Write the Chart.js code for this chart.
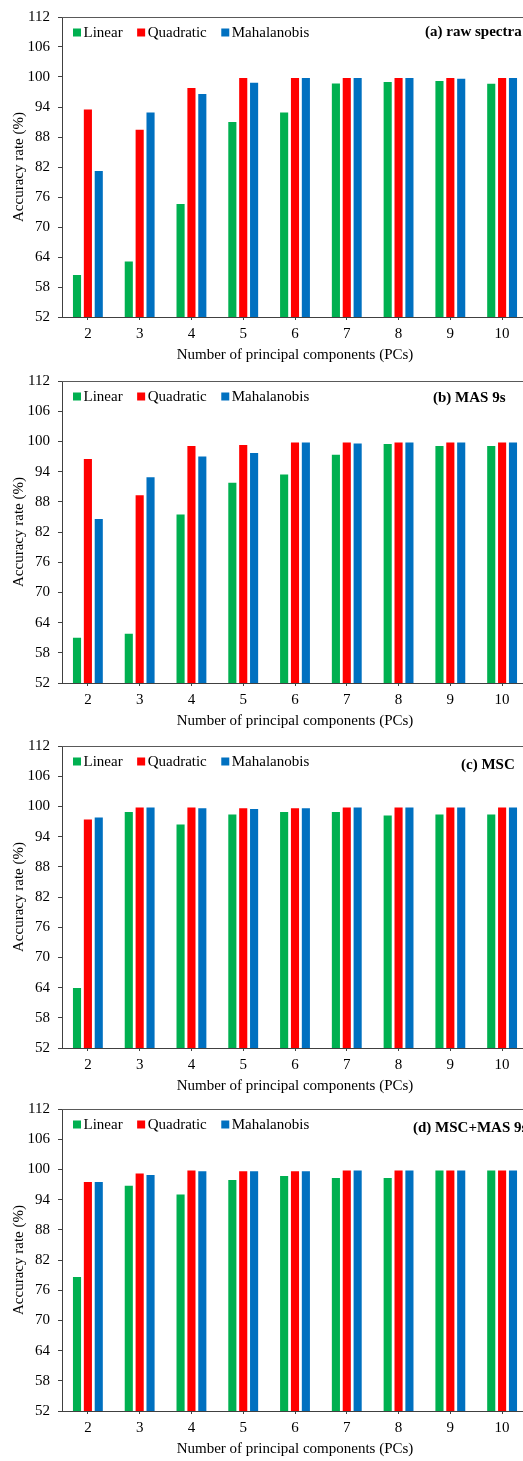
<!DOCTYPE html>
<html>
<head>
<meta charset="utf-8">
<script src="https://cdn.jsdelivr.net/npm/chart.js@4.4.1/dist/chart.umd.min.js"></script>
<style>
  html, body { margin: 0; padding: 0; background: #fff; overflow: hidden; width: 523px; height: 1461px; }
  canvas { position: absolute; left: 0; }
</style>
</head>
<body>
<canvas id="chartA"></canvas>
<canvas id="chartB"></canvas>
<canvas id="chartC"></canvas>
<canvas id="chartD"></canvas>
<script>
  // number of PCs on the x axis
  const categories = ['2', '3', '4', '5', '6', '7', '8', '9', '10'];
  const yTickValues = [52, 58, 64, 70, 76, 82, 88, 94, 100, 106, 112];
  const seriesNames = ['Linear', 'Quadratic', 'Mahalanobis'];
  const seriesColors = ['#00B050', '#FF0000', '#0070C0'];
  const panelTitles = ['(a) raw spectra', '(b) MAS 9s', '(c) MSC', '(d) MSC+MAS 9s'];

  // (a) raw spectra
  const linearA = [60.6, 63.3, 74.8, 91.2, 93.1, 98.9, 99.2, 99.4, 98.85];
  const quadA   = [93.7, 89.65, 98.0, 100, 100, 100, 100, 100, 100];
  const mahaA   = [81.4, 93.1, 96.8, 99.05, 100, 100, 100, 99.85, 100];

  // (b) MAS 9s
  const linearB = [61.2, 62.0, 85.7, 92.0, 93.6, 97.55, 99.7, 99.3, 99.3];
  const quadB   = [96.7, 89.5, 99.3, 99.5, 100, 100, 100, 100, 100];
  const mahaB   = [84.8, 93.1, 97.2, 97.9, 100, 99.8, 100, 100, 100];

  // (c) MSC
  const linearC = [64.1, 99.1, 96.6, 98.6, 99.1, 99.1, 98.4, 98.6, 98.6];
  const quadC   = [97.6, 100, 100, 99.85, 99.85, 100, 100, 100, 100];
  const mahaC   = [98.0, 100, 99.85, 99.7, 99.85, 100, 100, 100, 100];

  // (d) MSC+MAS 9s
  const linearD = [78.8, 96.95, 95.2, 98.1, 98.9, 98.5, 98.5, 100, 100];
  const quadD   = [97.7, 99.4, 100, 99.85, 99.85, 100, 100, 100, 100];
  const mahaD   = [97.7, 99.1, 99.85, 99.85, 99.85, 100, 100, 100, 100];

  const FONT = '"Liberation Serif", "Times New Roman", serif';
  const AXIS = '#404040';

  // legend + panel label + top frame line, drawn inside the plot
  const decor = {
    id: 'decor',
    afterDraw(chart, args, opts) {
      const { ctx, chartArea: a } = chart;
      ctx.save();
      ctx.strokeStyle = '#595959';
      ctx.lineWidth = 1;
      ctx.beginPath();
      ctx.moveTo(a.left, Math.round(a.top) + 0.5);
      ctx.lineTo(a.right, Math.round(a.top) + 0.5);
      ctx.stroke();

      ctx.font = '15px ' + FONT;
      ctx.textBaseline = 'middle';
      let x = a.left + 11;
      const y = a.top + 15.5;
      chart.data.datasets.forEach(ds => {
        ctx.fillStyle = ds.backgroundColor;
        ctx.fillRect(x, y - 4, 8, 8);
        ctx.fillStyle = '#000';
        ctx.fillText(ds.label, x + 10.5, y + 0.5);
        x += 10.5 + ctx.measureText(ds.label).width + 14.5;
      });

      ctx.font = 'bold 15px ' + FONT;
      ctx.fillText(opts.text, opts.x, a.top + opts.dy);
      ctx.restore();
    }
  };

  function makePanel(id, top, plotH, lin, quad, maha, title, labelX, labelDy) {
    const cv = document.getElementById(id);
    const xH = 48;
    cv.width = 528;
    cv.height = 12 + plotH + xH;
    cv.style.top = top + 'px';

    new Chart(cv, {
      type: 'bar',
      data: {
        labels: categories,
        datasets: [lin, quad, maha].map((d, i) => ({
          label: seriesNames[i],
          data: d,
          backgroundColor: seriesColors[i],
          borderColor: 'rgba(255,255,255,0.35)',
          borderWidth: 1,
          categoryPercentage: 0.63,
          barPercentage: 0.93
        }))
      },
      options: {
        responsive: false,
        animation: false,
        devicePixelRatio: 1,
        layout: { padding: { top: 12, left: 0, right: 0, bottom: 0 } },
        plugins: {
          legend: { display: false },
          tooltip: { enabled: false },
          decor: { text: title, x: labelX, dy: labelDy }
        },
        scales: {
          x: {
            offset: true,
            grid: { display: true, drawOnChartArea: false, offset: false, tickLength: 3, color: AXIS },
            border: { display: true, color: AXIS, width: 1 },
            ticks: { padding: 5, color: '#000', font: { family: FONT, size: 15 } },
            title: {
              display: true,
              text: 'Number of principal components (PCs)',
              color: '#000',
              font: { family: FONT, size: 15 },
              padding: { top: 0, bottom: 1 }
            },
            afterFit(s) { s.height = xH; }
          },
          y: {
            min: 52,
            max: 112,
            afterBuildTicks(s) { s.ticks = yTickValues.map(v => ({ value: v })); },
            grid: { display: true, drawOnChartArea: false, tickLength: 4, color: AXIS },
            border: { display: true, color: AXIS, width: 1 },
            ticks: { padding: 8, color: '#000', font: { family: FONT, size: 15 } },
            title: {
              display: true,
              text: 'Accuracy rate (%)',
              color: '#000',
              font: { family: FONT, size: 15 },
              padding: { top: 10, bottom: 0 }
            },
            afterFit(s) { s.width = 62; }
          }
        }
      },
      plugins: [decor]
    });
  }

  makePanel('chartA', 0, 305, linearA, quadA, mahaA, panelTitles[0], 425, 15);
  makePanel('chartB', 364, 307, linearB, quadB, mahaB, panelTitles[1], 433, 17);
  makePanel('chartC', 729, 307, linearC, quadC, mahaC, panelTitles[2], 461, 19);
  makePanel('chartD', 1092, 307, linearD, quadD, mahaD, panelTitles[3], 413, 19);
</script>
</body>
</html>
